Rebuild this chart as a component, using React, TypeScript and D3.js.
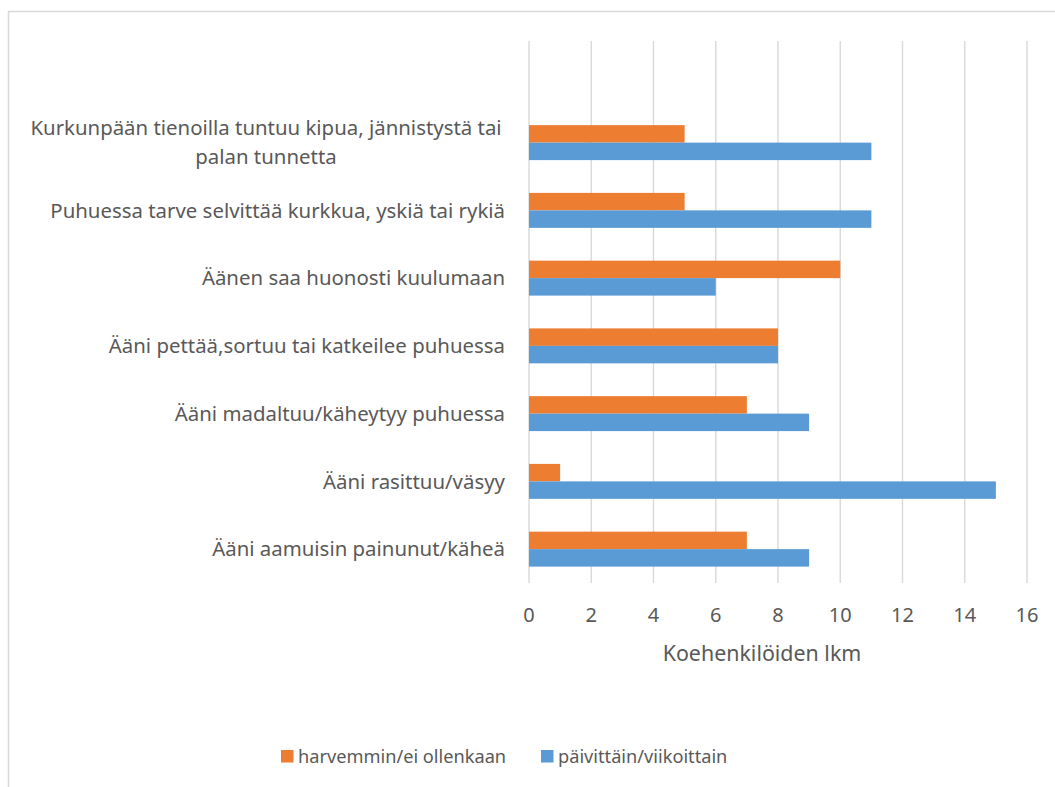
import React from "react";
import * as d3 from "d3";

// Symptom categories, top to bottom (the blank entry is an empty first row)
const categories = [
  "",
  "Kurkunpään tienoilla tuntuu kipua, jännistystä tai|palan tunnetta",
  "Puhuessa tarve selvittää kurkkua, yskiä tai rykiä",
  "Äänen saa huonosti kuulumaan",
  "Ääni pettää,sortuu tai katkeilee puhuessa",
  "Ääni madaltuu/käheytyy puhuessa",
  "Ääni rasittuu/väsyy",
  "Ääni aamuisin painunut/käheä",
];

const harvemmin = [null, 5, 5, 10, 8, 7, 1, 7];
const paivittain = [null, 11, 11, 6, 8, 9, 15, 9];

const xTicks = [0, 2, 4, 6, 8, 10, 12, 14, 16];

const seriesNames = ["harvemmin/ei ollenkaan", "päivittäin/viikoittain"];
const seriesColors = ["#ED7D31", "#5B9BD5"];

const W = 1055;
const H = 787;
const FONT = "'Noto Sans', 'Open Sans', sans-serif";
const TEXT = "#595959";
const GRID = "#d9d9d9";

export default function App() {
  const x = d3.scaleLinear().domain([0, 16]).range([529, 1027]);
  const y = d3.scaleBand<string>().domain(categories).range([41, 583]).padding(0);
  const step = y.step();
  const barH = step * 0.258;

  const plotBottom = 583;

  return (
    <svg
      width={W}
      height={H}
      style={{ position: "absolute", left: 0, top: 0, background: "#fff" }}
      fontFamily={FONT}
    >
      <rect x={8.5} y={11.5} width={1060} height={800} fill="#fff" stroke={GRID} strokeWidth={1.5} />

      {/* vertical gridlines */}
      {xTicks.map((t) => (
        <line key={t} x1={x(t)} x2={x(t)} y1={41} y2={plotBottom} stroke={GRID} strokeWidth={1.4} />
      ))}

      {/* bars */}
      {categories.map((c, i) => {
        const cy = (y(c) as number) + step / 2;
        const vals = [harvemmin[i], paivittain[i]];
        return (
          <g key={i}>
            {vals.map((v, s) =>
              v == null ? null : (
                <rect
                  key={s}
                  x={x(0)}
                  y={cy - barH + s * barH}
                  width={x(v) - x(0)}
                  height={barH}
                  fill={seriesColors[s]}
                />
              )
            )}
          </g>
        );
      })}

      {/* category labels */}
      {categories.map((c, i) => {
        if (!c) return null;
        const cy = (y(c) as number) + step / 2;
        const lines = c.split("|");
        const lh = 29;
        const y0 = cy - ((lines.length - 1) * lh) / 2;
        return (
          <text key={i} fontSize={20.4} fill={TEXT}>
            {lines.map((l, k) => (
              <tspan key={k} x={lines.length > 1 ? 266 : 505} y={y0 + k * lh} dy="0.35em"
                textAnchor={lines.length > 1 ? "middle" : "end"}>
                {l}
              </tspan>
            ))}
          </text>
        );
      })}

      {/* x tick labels */}
      {xTicks.map((t) => (
        <text key={t} x={x(t)} y={615} dy="0.35em" textAnchor="middle" fontSize={20} fill={TEXT}>
          {t}
        </text>
      ))}

      {/* axis title */}
      <text x={762} y={654} dy="0.35em" textAnchor="middle" fontSize={21.4} fill={TEXT}>
        Koehenkilöiden lkm
      </text>

      {/* legend */}
      <g>
        <rect x={281} y={750} width={12.5} height={12.5} fill={seriesColors[0]} />
        <text x={298} y={757} dy="0.35em" fontSize={18.2} fill={TEXT}>{seriesNames[0]}</text>
        <rect x={541} y={750} width={12.5} height={12.5} fill={seriesColors[1]} />
        <text x={558} y={757} dy="0.35em" fontSize={18.2} fill={TEXT}>{seriesNames[1]}</text>
      </g>
    </svg>
  );
}
